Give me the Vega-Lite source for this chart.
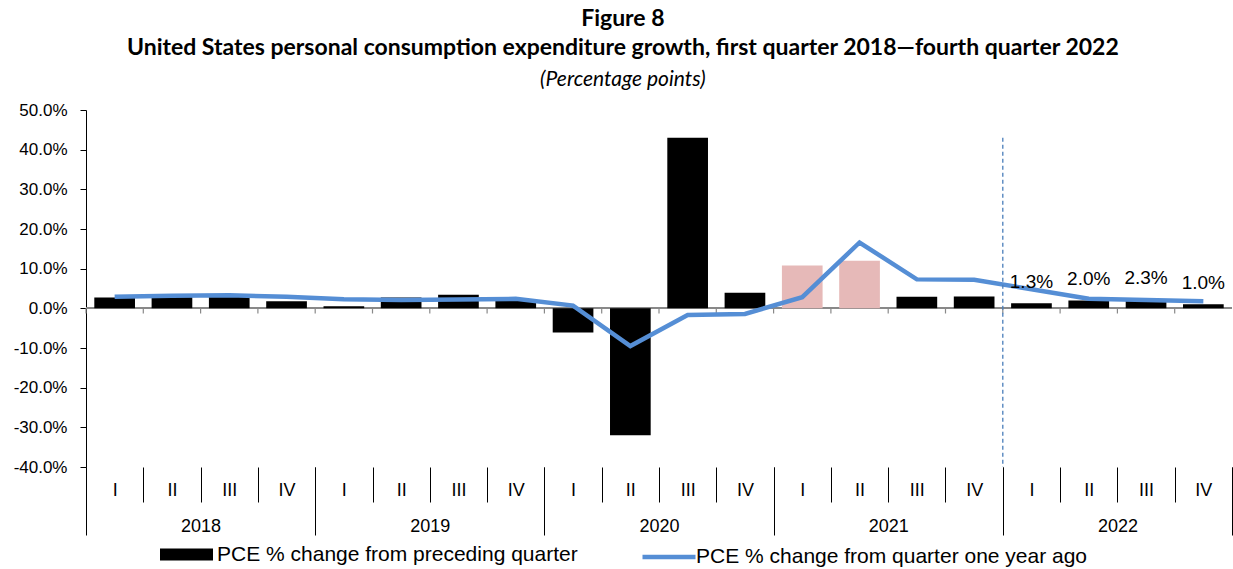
{
  "$schema": "https://vega.github.io/schema/vega-lite/v6.json",
  "autosize": {"type": "none"},
  "padding": {"left": 86, "top": 110, "right": 1, "bottom": 102},
  "width": 1146,
  "height": 357,
  "background": "white",
  "title": {
    "text": ["Figure 8", "United States personal consumption expenditure growth, first quarter 2018\u2014fourth quarter 2022"],
    "subtitle": "(Percentage points)",
    "anchor": "middle",
    "frame": "bounds",
    "font": "Lato",
    "fontSize": 23,
    "fontWeight": "bold",
    "lineHeight": 29,
    "color": "black",
    "subtitleFont": "Lato",
    "subtitleFontSize": 21,
    "subtitleFontStyle": "italic",
    "subtitleColor": "black",
    "subtitlePadding": 9,
    "offset": 11
  },
  "data": {
    "values": [
      {"period": "2018 I", "year": "2018", "mom": 2.7, "yoy": 2.9},
      {"period": "2018 II", "year": "2018", "mom": 3.0, "yoy": 3.2},
      {"period": "2018 III", "year": "2018", "mom": 3.2, "yoy": 3.3},
      {"period": "2018 IV", "year": "2018", "mom": 1.8, "yoy": 2.9},
      {"period": "2019 I", "year": "2019", "mom": 0.5, "yoy": 2.3},
      {"period": "2019 II", "year": "2019", "mom": 2.7, "yoy": 2.1},
      {"period": "2019 III", "year": "2019", "mom": 3.4, "yoy": 2.2},
      {"period": "2019 IV", "year": "2019", "mom": 2.0, "yoy": 2.4},
      {"period": "2020 I", "year": "2020", "mom": -6.1, "yoy": 0.7},
      {"period": "2020 II", "year": "2020", "mom": -32.0, "yoy": -9.5},
      {"period": "2020 III", "year": "2020", "mom": 43.0, "yoy": -1.7},
      {"period": "2020 IV", "year": "2020", "mom": 3.9, "yoy": -1.4},
      {"period": "2021 I", "year": "2021", "mom": 10.8, "yoy": 2.8},
      {"period": "2021 II", "year": "2021", "mom": 12.0, "yoy": 16.6},
      {"period": "2021 III", "year": "2021", "mom": 2.9, "yoy": 7.3},
      {"period": "2021 IV", "year": "2021", "mom": 3.0, "yoy": 7.2},
      {"period": "2022 I", "year": "2022", "mom": 1.3, "yoy": 4.8},
      {"period": "2022 II", "year": "2022", "mom": 2.0, "yoy": 2.4},
      {"period": "2022 III", "year": "2022", "mom": 2.3, "yoy": 2.1},
      {"period": "2022 IV", "year": "2022", "mom": 1.0, "yoy": 1.8}
    ]
  },
  "layer": [
    {
      "encoding": {
        "x": {
          "field": "period",
          "type": "nominal",
          "sort": null,
          "scale": {"paddingInner": 0, "paddingOuter": 0},
          "axis": {
            "orient": "bottom",
            "title": null,
            "domain": false,
            "tickBand": "extent",
            "tickSize": 35,
            "tickColor": "black",
            "tickWidth": 1,
            "labelAngle": 0,
            "labelExpr": "split(datum.label, ' ')[1]",
            "labelBaseline": "middle",
            "labelPadding": -12,
            "labelFont": "Liberation Sans",
            "labelFontSize": 18,
            "labelColor": "black"
          }
        }
      },
      "layer": [
        {
          "mark": {"type": "rule", "color": "#898989", "strokeWidth": 1.2},
          "encoding": {"x": null, "y": {"datum": 0, "type": "quantitative", "axis": {"values": [-40, -30, -20, -10, 0, 10, 20, 30, 40, 50]}}}
        },
        {
          "mark": {"type": "rule", "color": "#898989", "strokeWidth": 1.2},
          "encoding": {
            "x": {"field": "period", "type": "nominal", "sort": null, "bandPosition": 0},
            "y": {"datum": 0, "type": "quantitative", "axis": {"values": [-40, -30, -20, -10, 0, 10, 20, 30, 40, 50]}},
            "y2": {"datum": -1.3}
          }
        },
        {
          "mark": {"type": "bar", "width": {"band": 0.71}},
          "encoding": {
            "y": {
              "field": "mom",
              "type": "quantitative",
              "scale": {"domain": [-40, 50], "nice": false, "zero": false},
              "axis": {"values": [-40, -30, -20, -10, 0, 10, 20, 30, 40, 50]}
            },
            "fill": {
              "condition": {"test": "datum.period === '2021 I' || datum.period === '2021 II'", "value": "#e6b9b8"},
              "datum": "PCE % change from preceding quarter",
              "type": "nominal",
              "scale": {"range": ["black"]},
              "legend": {
                "orient": "none",
                "legendX": 74,
                "legendY": 418,
                "title": null,
                "symbolType": "M-1,-0.226H1V0.226H-1Z",
                "symbolSize": 2809,
                "symbolStrokeWidth": 0,
                "labelFont": "Liberation Sans",
                "labelFontSize": 21,
                "labelColor": "black",
                "labelOffset": 4,
                "labelLimit": 0
              }
            }
          }
        },
        {
          "mark": {"type": "line", "strokeWidth": 4.5, "strokeJoin": "miter"},
          "encoding": {
            "y": {"field": "yoy", "type": "quantitative", "axis": {"values": [-40, -30, -20, -10, 0, 10, 20, 30, 40, 50]}},
            "stroke": {
              "datum": "PCE % change from quarter one year ago",
              "type": "nominal",
              "scale": {"range": ["#558ed5"]},
              "legend": {
                "orient": "none",
                "legendX": 554,
                "legendY": 418,
                "title": null,
                "symbolType": "stroke",
                "symbolSize": 2809,
                "symbolStrokeWidth": 4.5,
                "labelFont": "Liberation Sans",
                "labelFontSize": 21,
                "labelColor": "black",
                "labelOffset": -2,
                "labelLimit": 0
              }
            }
          }
        },
        {
          "transform": [
            {"filter": "datum.year === '2022'"},
            {"calculate": "format(datum.mom, '.1f') + '%'", "as": "lbl"}
          ],
          "mark": {"type": "text", "font": "Liberation Sans", "fontSize": 19, "color": "black", "baseline": "alphabetic", "dy": -15},
          "encoding": {
            "y": {"field": "mom", "type": "quantitative", "axis": {"values": [-40, -30, -20, -10, 0, 10, 20, 30, 40, 50]}},
            "text": {"field": "lbl", "type": "nominal"}
          }
        }
      ]
    },
    {
      "transform": [{"filter": "datum.period === '2022 I'"}],
      "mark": {"type": "rule", "color": "#4a7ebb", "strokeWidth": 1.3, "strokeDash": [4, 3]},
      "encoding": {
        "x": {
          "field": "year",
          "type": "nominal",
          "bandPosition": 0,
          "scale": {"domain": ["2018", "2019", "2020", "2021", "2022"], "paddingInner": 0, "paddingOuter": 0},
          "axis": {
            "orient": "bottom",
            "title": null,
            "domain": false,
            "tickBand": "extent",
            "tickSize": 68,
            "tickColor": "black",
            "tickWidth": 1,
            "labelAngle": 0,
            "labelBaseline": "middle",
            "labelPadding": -9,
            "labelFont": "Liberation Sans",
            "labelFontSize": 18,
            "labelColor": "black"
          }
        },
        "y": {"datum": 43, "type": "quantitative", "axis": {"values": [-40, -30, -20, -10, 0, 10, 20, 30, 40, 50]}},
        "y2": {"datum": -40}
      }
    }
  ],
  "resolve": {"scale": {"x": "independent"}, "axis": {"x": "independent"}},
  "config": {
    "view": {"stroke": null},
    "legend": {"padding": 0},
    "axisY": {
      "title": null,
      "labelExpr": "replace(format(datum.value, '.1f'), '\u2212', '-') + '%'",
      "labelOverlap": false,
      "grid": false,
      "domainColor": "black",
      "tickColor": "black",
      "tickSize": 6,
      "labelPadding": 13,
      "labelFont": "Liberation Sans",
      "labelFontSize": 17,
      "labelColor": "black"
    }
  }
}
